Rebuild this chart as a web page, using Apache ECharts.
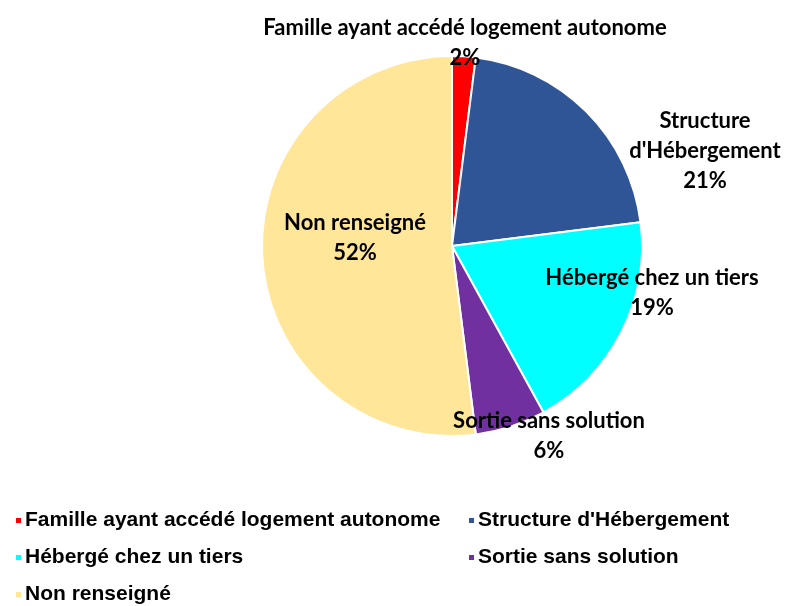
<!DOCTYPE html>
<html>
<head>
<meta charset="utf-8">
<script src="https://cdn.jsdelivr.net/npm/echarts@6/dist/echarts.min.js"></script>
<style>
  html, body { margin: 0; padding: 0; background: #fff; }
  #chart { width: 787px; height: 606px; }
</style>
</head>
<body>
<div id="chart"></div>
<script>
// données
const categories = [
  'Famille ayant accédé logement autonome',
  "Structure d'Hébergement",
  'Hébergé chez un tiers',
  'Sortie sans solution',
  'Non renseigné'
];
const values = [2, 21, 19, 6, 52];
const colors = ['#FF0000', '#2F5597', '#00FFFF', '#7030A0', '#FFE699'];
// texte des étiquettes (retours à la ligne comme sur l'original)
const labelNames = [
  'Famille ayant accédé logement autonome',
  "Structure\nd'Hébergement",
  'Hébergé chez un tiers',
  'Sortie sans solution',
  'Non renseigné'
];
// centre des étiquettes
const labelPos = [[465, 43], [705, 151], [652, 293], [549, 436], [355, 238]];
// position des entrées de légende
const legendPos = [[9, 505], [462, 505], [9, 542], [462, 542], [9, 579]];

const chart = echarts.init(document.getElementById('chart'));

const legends = categories.map(function (name, i) {
  return {
    left: legendPos[i][0],
    top: legendPos[i][1],
    icon: 'rect',
    itemWidth: 7,
    itemHeight: 7,
    itemGap: 6,
    data: [name],
    textStyle: {
      fontFamily: 'Liberation Sans, Arial, sans-serif',
      fontWeight: 'bold',
      fontSize: 21,
      color: '#000',
      padding: [0, 0, 0, -2]
    }
  };
});

const option = {
  backgroundColor: '#fff',
  color: colors,
  legend: legends,
  series: [
    {
      type: 'pie',
      center: [452, 246],
      radius: 190,
      startAngle: 90,
      clockwise: true,
      animation: false,
      itemStyle: { borderColor: '#fff', borderWidth: 2 },
      label: {
        show: true,
        position: 'outside',
        overflow: 'none',
        formatter: function (p) {
          return labelNames[p.dataIndex] + '\n' + p.value + '%';
        },
        fontFamily: 'Lato, Open Sans, sans-serif',
        fontWeight: 'bold',
        fontSize: 22,
        lineHeight: 30,
        color: '#000',
        align: 'center'
      },
      labelLine: { show: false },
      labelLayout: function (params) {
        const p = labelPos[params.dataIndex];
        return { x: p[0], y: p[1], align: 'center', verticalAlign: 'middle' };
      },
      emphasis: { disabled: true },
      data: categories.map(function (name, i) {
        return { name: name, value: values[i] };
      })
    }
  ]
};

option && chart.setOption(option);
</script>
</body>
</html>
